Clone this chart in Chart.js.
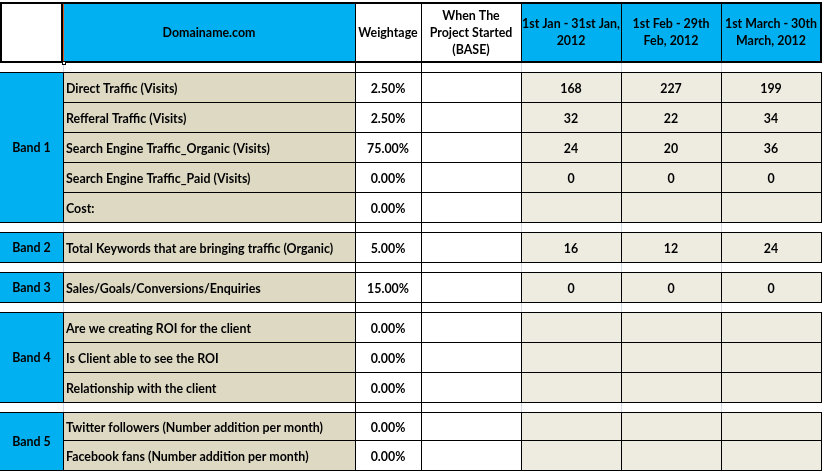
<!DOCTYPE html>
<html><head><meta charset="utf-8">
<script src="https://cdn.jsdelivr.net/npm/chart.js@4/dist/chart.umd.min.js"></script>
<style>html,body{margin:0;padding:0;background:#fff;overflow:hidden}canvas{display:block}</style>
</head><body>
<canvas id="c" width="822" height="472"></canvas>
<script>
// ---- data ----
const headerTitle = 'Domainame.com';
const headerWeight = 'Weightage';
const headerBase = ['When The', 'Project Started', '(BASE)'];
const periods = [['1st Jan - 31st Jan,', '2012'], ['1st Feb - 29th', 'Feb, 2012'], ['1st March - 30th', 'March, 2012']];
const bands = ['Band 1', 'Band 2', 'Band 3', 'Band 4', 'Band 5'];
const bandSizes = [5, 1, 1, 3, 2];
const metrics = [
  'Direct Traffic (Visits)',
  'Refferal Traffic (Visits)',
  'Search Engine Traffic_Organic (Visits)',
  'Search Engine Traffic_Paid (Visits)',
  'Cost:',
  'Total Keywords that are bringing traffic (Organic)',
  'Sales/Goals/Conversions/Enquiries',
  'Are we creating ROI for the client',
  'Is Client able to see the ROI',
  'Relationship with the client',
  'Twitter followers (Number addition per month)',
  'Facebook fans (Number addition per month)'
];
const weightage = [2.5, 2.5, 75, 0, 0, 5, 15, 0, 0, 0, 0, 0];
const baseValues = [null, null, null, null, null, null, null, null, null, null, null, null];
const janValues = [168, 32, 24, 0, null, 16, 0, null, null, null, null, null];
const febValues = [227, 22, 20, 0, null, 12, 0, null, null, null, null, null];
const marValues = [199, 34, 36, 0, null, 24, 0, null, null, null, null, null];

// ---- layout / style ----
const colEdges = [0, 63, 355, 421, 521, 621, 721, 821];
const headerTop = 2, headerBottom = 61, firstRowTop = 72, bandGap = 10;
const rowHeights = [30, 30, 30, 30, 30, 30, 30, 30, 30, 30, 28, 30];
const BLUE = '#00B0F0', TAN = '#DDD9C3', LIGHT = '#EEECE1', GRID = '#D0D7E5';
const FONT = 'bold 12.4px Lato';

const tablePlugin = {
  id: 'tablePlugin',
  afterDraw(chart) {
    const ctx = chart.ctx, xs = chart.scales.x, ys = chart.scales.y;
    const X = v => Math.round(xs.getPixelForValue(v));
    const Y = v => Math.round(ys.getPixelForValue(v));
    const fill = (x0, y0, x1, y1, c) => { ctx.fillStyle = c; ctx.fillRect(X(x0), Y(y0), X(x1) - X(x0), Y(y1) - Y(y0)); };
    const vline = (x, y0, y1, c) => { ctx.fillStyle = c; ctx.fillRect(X(x), Y(y0), 1, Y(y1) - Y(y0) + 1); };
    const hline = (y, x0, x1, c) => { ctx.fillStyle = c; ctx.fillRect(X(x0), Y(y), X(x1) - X(x0) + 1, 1); };
    const text = (t, x, y, align) => {
      ctx.font = FONT; ctx.fillStyle = '#000'; ctx.textAlign = align || 'center'; ctx.textBaseline = 'middle';
      ctx.fillText(t, xs.getPixelForValue(x), ys.getPixelForValue(y));
    };
    const cx = i => (colEdges[i] + colEdges[i + 1]) / 2;

    // rows
    const rows = []; const bandRanges = []; const gaps = [];
    let y = firstRowTop, m = 0;
    gaps.push([headerBottom + 2, firstRowTop]);
    bandSizes.forEach((n, b) => {
      const top = y;
      for (let k = 0; k < n; k++) { rows.push({ top: y, bottom: y + rowHeights[m], i: m }); y += rowHeights[m]; m++; }
      bandRanges.push([top, y]);
      if (b < bandSizes.length - 1) { gaps.push([y, y + bandGap]); y += bandGap; }
    });

    // header fills
    fill(colEdges[1], headerTop, colEdges[2], headerBottom, BLUE);
    for (let c = 4; c < 7; c++) fill(colEdges[c], headerTop, colEdges[c + 1], headerBottom, BLUE);
    // body fills
    bandRanges.forEach(r => fill(colEdges[0], r[0], colEdges[1], r[1], BLUE));
    rows.forEach(r => {
      fill(colEdges[1], r.top, colEdges[2], r.bottom, TAN);
      for (let c = 4; c < 7; c++) fill(colEdges[c], r.top, colEdges[c + 1], r.bottom, LIGHT);
    });

    // gap gridlines
    gaps.forEach(g => {
      [1, 4, 5, 6].forEach(c => vline(colEdges[c], g[0], g[1], GRID));
      [2, 3].forEach(c => vline(colEdges[c], g[0], g[1], '#000'));
    });

    // body borders
    rows.forEach(r => {
      hline(r.top, colEdges[1], colEdges[7], '#000');
      hline(r.bottom, colEdges[1], colEdges[7], '#000');
      for (let c = 1; c < 8; c++) vline(colEdges[c], r.top, r.bottom, '#000');
    });
    bandRanges.forEach(r => { hline(r[0], colEdges[0], colEdges[1], '#000'); hline(r[1], colEdges[0], colEdges[1], '#000'); });

    // header borders
    ctx.fillStyle = '#000';
    ctx.fillRect(X(0), Y(headerTop), X(822) - X(0), 2);
    ctx.fillRect(X(0), Y(headerBottom), X(822) - X(0), 2);
    ctx.fillRect(X(0), Y(headerTop), 2, Y(headerBottom) - Y(headerTop) + 2);
    ctx.fillRect(X(colEdges[1]) - 2, Y(headerTop), 2, Y(headerBottom) - Y(headerTop) + 2);
    ctx.fillRect(X(colEdges[7]) - 1, Y(headerTop), 2, Y(headerBottom) - Y(headerTop) + 2);
    for (let c = 2; c < 7; c++) vline(colEdges[c], headerTop, headerBottom, '#000');
    // selection marker
    ctx.fillStyle = '#E2571E';
    ctx.fillRect(X(colEdges[1]), Y(headerTop) + 2, 1, Y(headerBottom) - Y(headerTop) - 2);
    ctx.fillStyle = '#000'; ctx.fillRect(X(colEdges[1]) - 1, Y(headerBottom), 4, 4);
    ctx.fillStyle = '#fff'; ctx.fillRect(X(colEdges[1]), Y(headerBottom) + 1, 2, 2);

    // header text
    const hMid = (headerTop + headerBottom) / 2 + 1;
    text(headerTitle, cx(1), hMid);
    text(headerWeight, cx(2), hMid);
    headerBase.forEach((t, k) => text(t, cx(3), hMid + (k - 1) * 17));
    periods.forEach((p, c) => p.forEach((t, k) => text(t, cx(4 + c), hMid + (k - 0.5) * 17)));

    // body text
    bandRanges.forEach((r, b) => text(bands[b], cx(0), (r[0] + r[1]) / 2 + 1));
    rows.forEach(r => {
      const mid = (r.top + r.bottom) / 2 + 1.5;
      text(metrics[r.i], colEdges[1] + 3, mid, 'left');
      text(weightage[r.i].toFixed(2) + '%', cx(2), mid);
      if (baseValues[r.i] != null) text(String(baseValues[r.i]), cx(3), mid);
      [janValues, febValues, marValues].forEach((arr, c) => {
        if (arr[r.i] != null) text(String(arr[r.i]), cx(4 + c), mid);
      });
    });
  }
};

new Chart(document.getElementById('c'), {
  type: 'scatter',
  data: { datasets: [{ data: [] }] },
  options: {
    responsive: false, animation: false, devicePixelRatio: 1,
    layout: { padding: 0 },
    plugins: { legend: { display: false }, tooltip: { enabled: false } },
    scales: {
      x: { type: 'linear', min: 0, max: 822, display: false },
      y: { type: 'linear', min: 0, max: 472, reverse: true, display: false }
    }
  },
  plugins: [tablePlugin]
});
</script>
</body></html>
